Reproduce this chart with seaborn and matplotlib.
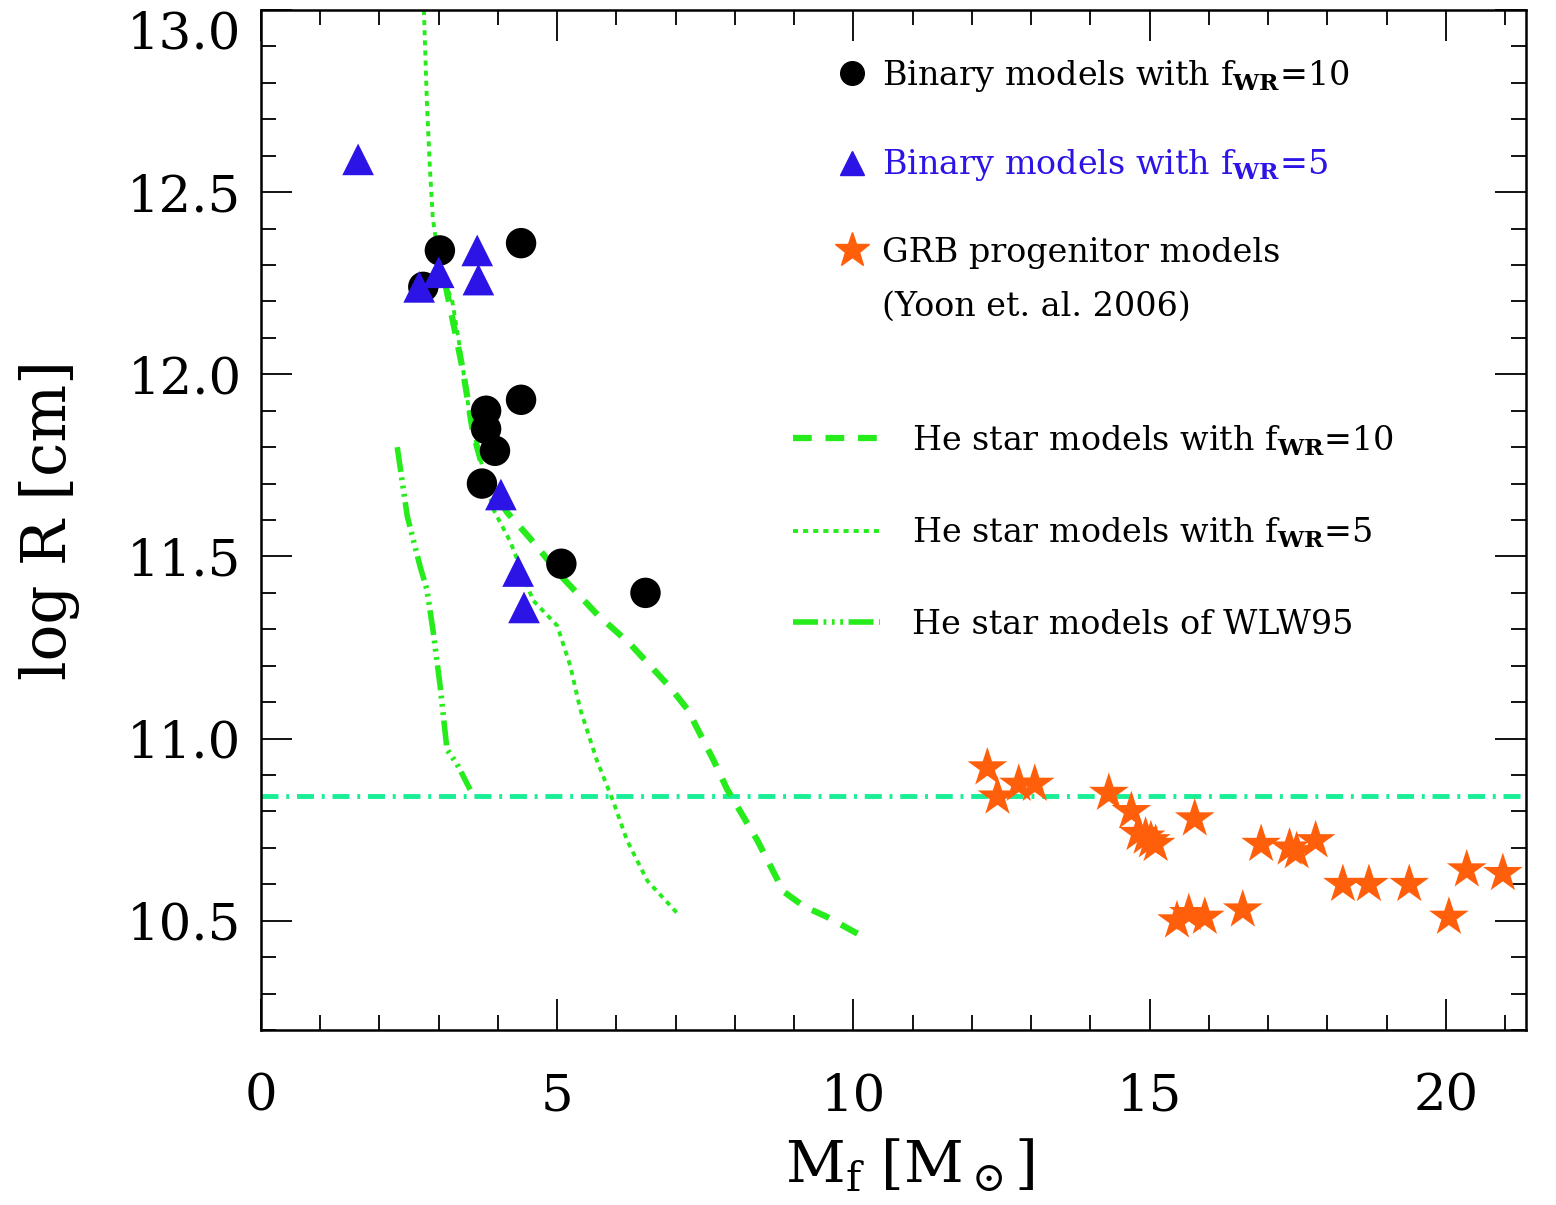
import numpy as np
import matplotlib
matplotlib.use("Agg")
import matplotlib.pyplot as plt
import seaborn as sns
from matplotlib.lines import Line2D
from matplotlib.ticker import MultipleLocator, FormatStrFormatter

# binary models with f_WR=10 (black circles)
bin10_m = [2.74, 3.02, 4.39, 3.80, 3.80, 3.95, 3.73, 4.39, 5.07, 6.49]
bin10_r = [12.24, 12.34, 12.36, 11.90, 11.85, 11.79, 11.70, 11.93, 11.48, 11.40]

# binary models with f_WR=5 (blue triangles)
bin5_m = [1.64, 2.67, 3.00, 3.65, 3.67, 4.05, 4.34, 4.44]
bin5_r = [12.59, 12.24, 12.28, 12.34, 12.26, 11.67, 11.46, 11.36]

# GRB progenitor models, Yoon et al. 2006 (orange stars)
grb_m = [12.26, 12.43, 12.79, 13.06, 14.31, 14.69, 14.81, 14.93, 15.02, 15.10,
         15.76, 16.88, 17.36, 17.48, 17.80, 18.26, 18.70, 19.38, 20.35, 20.96,
         20.05, 15.46, 15.66, 15.93, 16.57]
grb_r = [10.92, 10.84, 10.875, 10.875, 10.85, 10.80, 10.74, 10.73, 10.72, 10.71,
         10.78, 10.71, 10.70, 10.69, 10.72, 10.60, 10.60, 10.60, 10.64, 10.63,
         10.51, 10.50, 10.52, 10.51, 10.53]

# He star models with f_WR=10 (dashed)
he10_m = [3.11, 3.41, 3.58, 3.82, 4.16, 4.54, 5.10, 5.68, 6.23, 6.91, 7.20,
          7.42, 7.64, 7.87, 8.09, 8.38, 8.60, 8.82, 9.16, 9.56, 10.12]
he10_r = [12.25, 12.01, 11.84, 11.70, 11.62, 11.55, 11.44, 11.34, 11.26, 11.14,
          11.08, 11.01, 10.94, 10.86, 10.80, 10.72, 10.65, 10.58, 10.54, 10.51, 10.46]

# He star models with f_WR=5 (dotted)
he5_m = [2.75, 2.80, 2.85, 2.90, 3.02, 3.23, 3.36, 3.53, 3.70, 3.92, 4.21,
         4.59, 5.00, 5.22, 5.39, 5.67, 5.94, 6.18, 6.52, 7.03]
he5_r = [13.0, 12.75, 12.57, 12.43, 12.29, 12.20, 12.07, 11.88, 11.77, 11.63,
         11.54, 11.38, 11.31, 11.20, 11.08, 10.94, 10.83, 10.72, 10.61, 10.52]

# He star models of WLW95 (dash-dot-dot-dot)
wlw_m = [2.30, 2.47, 2.69, 2.80, 2.91, 3.02, 3.14, 3.31, 3.53]
wlw_r = [11.80, 11.61, 11.47, 11.41, 11.29, 11.15, 10.97, 10.93, 10.86]

hline_r = 10.842

green = '#27ec1c'
blue = '#2d14e6'
orange = '#ff5f0a'
cyan = '#18ee95'

sns.set_style('ticks')
plt.rcParams['font.family'] = ['DejaVu Serif']
plt.rcParams['mathtext.fontset'] = 'dejavuserif'
plt.rcParams['text.color'] = 'black'
plt.rcParams['axes.labelcolor'] = 'black'

fig = plt.figure(figsize=(15.56, 12.05), dpi=100)
ax = fig.add_axes([0.1677, 0.1452, 0.8130, 0.8465])

ax.axhline(hline_r, color=cyan, lw=3.5, linestyle=(0, (3.5, 1.6, 0.6, 1.6)), zorder=1)

sns.lineplot(x=he10_m, y=he10_r, sort=False, estimator=None, color=green, lw=4.5,
             linestyle=(0, (3.0, 2.2)), ax=ax, zorder=2)
sns.lineplot(x=he5_m, y=he5_r, sort=False, estimator=None, color=green, lw=2.8,
             linestyle=(0, (1.3, 1.3)), ax=ax, zorder=2)
sns.lineplot(x=wlw_m, y=wlw_r, sort=False, estimator=None, color=green, lw=4.0,
             linestyle=(0, (4.5, 1.0, 0.5, 1.0, 0.5, 1.0, 0.5, 1.0)), ax=ax, zorder=2)

sns.scatterplot(x=bin10_m, y=bin10_r, marker='o', s=480, color='black',
                edgecolor='none', ax=ax, zorder=3)
sns.scatterplot(x=bin5_m, y=bin5_r, marker='^', s=520, color=blue,
                edgecolor='none', ax=ax, zorder=4)
sns.scatterplot(x=grb_m, y=grb_r, marker='*', s=900, color=orange,
                edgecolor='none', ax=ax, zorder=3)

ax.set_xlim(0, 21.35)
ax.set_ylim(10.2, 13.0)
ax.xaxis.set_major_locator(MultipleLocator(5))
ax.xaxis.set_minor_locator(MultipleLocator(1))
ax.yaxis.set_major_locator(MultipleLocator(0.5))
ax.yaxis.set_minor_locator(MultipleLocator(0.1))
ax.yaxis.set_major_formatter(FormatStrFormatter('%.1f'))
ax.tick_params(which='both', direction='in', top=True, right=True, width=1.3,
               labelsize=37, colors='black')
ax.tick_params(which='major', length=22)
ax.tick_params(which='minor', length=11)
ax.tick_params(axis='x', which='major', pad=30)
ax.tick_params(axis='y', which='major', pad=14)
for sp in ax.spines.values():
    sp.set_linewidth(1.8)
    sp.set_color('black')

ax.set_xlabel(r'$\mathrm{M_f}\ [\mathrm{M_\odot}]$', fontsize=42)
ax.set_ylabel('log R [cm]', fontsize=44)
ax.xaxis.set_label_coords(0.513, -0.105)
ax.yaxis.set_label_coords(-0.143, 0.5)

fig.canvas.draw()
for t in ax.get_yticklabels():
    if t.get_text() == '13.0':
        t.set_verticalalignment('top')

# marker legend
mk_handles = [
    Line2D([], [], ls='none', marker='o', color='black', markersize=17),
    Line2D([], [], ls='none', marker='^', color=blue, markersize=17),
    Line2D([], [], ls='none', marker='*', color=orange, markersize=26),
]
mk_labels = [r'Binary models with f$_{\mathbf{WR}}$=10',
             r'Binary models with f$_{\mathbf{WR}}$=5',
             'GRB progenitor models']
leg1 = ax.legend(mk_handles, mk_labels, loc='upper left', bbox_to_anchor=(0.4553, 0.953),
                 frameon=False, fontsize=24, handlelength=0.9, handletextpad=0.45,
                 labelspacing=1.6, borderpad=0, borderaxespad=0)
leg1.get_texts()[1].set_color(blue)
ax.add_artist(leg1)

# line legend
ln_handles = [
    Line2D([], [], color=green, lw=4.5, linestyle=(0, (3.0, 2.2))),
    Line2D([], [], color=green, lw=2.8, linestyle=(0, (1.3, 1.3))),
    Line2D([], [], color=green, lw=4.0, linestyle=(0, (4.5, 1.0, 0.5, 1.0, 0.5, 1.0, 0.5, 1.0))),
]
ln_labels = [r'He star models with f$_{\mathbf{WR}}$=10',
             r'He star models with f$_{\mathbf{WR}}$=5',
             'He star models of WLW95']
leg2 = ax.legend(ln_handles, ln_labels, loc='upper left', bbox_to_anchor=(0.4206, 0.595),
                 frameon=False, fontsize=24, handlelength=2.6, handletextpad=0.96,
                 labelspacing=1.75, borderpad=0, borderaxespad=0)

fig.canvas.draw()
bb = leg1.get_texts()[2].get_window_extent()
x0, y0 = ax.transAxes.inverted().transform((bb.x0, bb.y0))
ax.text(x0, y0 - 0.022, '(Yoon et. al. 2006)', transform=ax.transAxes,
        fontsize=24, va='top', ha='left')

fig.savefig('out.png', dpi=100)
